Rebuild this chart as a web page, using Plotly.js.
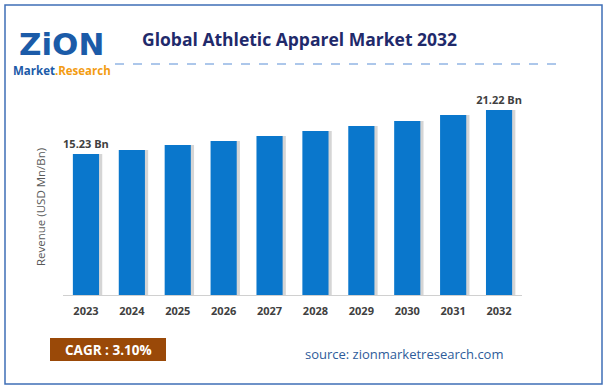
<!DOCTYPE html>
<html><head><meta charset="utf-8">
<script src="https://cdn.plot.ly/plotly-3.0.1.min.js"></script>
<style>html,body{margin:0;padding:0;background:#fff;}#chart{width:607px;height:390px;}</style>
</head><body><div id="chart"></div>
<script>
const years = ['2023','2024','2025','2026','2027','2028','2029','2030','2031','2032'];
const revenue = [15.23, 15.78, 16.46, 17.00, 17.68, 18.36, 19.04, 19.72, 20.54, 21.22];
const unit = ' Bn';
const cagrText = 'CAGR : 3.10%';
const sourceText = 'source: zionmarketresearch.com';
const titleText = 'Global Athletic Apparel Market 2032';
const yTitle = 'Revenue (USD Mn/Bn)';

const W = 607, H = 390, L = 63, R = 85, T = 95, B = 95;
const pw = W - L - R, ph = H - T - B;
const px = x => (x - L) / pw;
const py = y => (H - B - y) / ph;

const yMin = -3.96, yMax = 23.26;
const labels = revenue.map((v, i) => (i === 0 || i === revenue.length - 1) ? v.toFixed(2) + unit : '');
const font = 'Open Sans, Noto Sans, sans-serif';

const shadow = {
  type: 'bar', x: years, y: revenue.map(v => v - yMin), base: yMin, width: 0.57, offset: -0.285 + 0.07,
  marker: {color: 'rgba(150,150,150,0.4)', line: {width: 0}}, hoverinfo: 'skip', showlegend: false
};
const main = {
  type: 'bar', x: years, y: revenue.map(v => v - yMin), base: yMin, width: 0.57, offset: -0.285,
  marker: {color: '#0A77CC', line: {width: 0}},
  text: labels, textposition: 'outside', cliponaxis: false, constraintext: 'none',
  textfont: {family: font, size: 11, color: '#404040', weight: 'bold'},
  showlegend: false
};

const layout = {
  width: W, height: H, margin: {l: L, r: R, t: T, b: B},
  paper_bgcolor: '#fff', plot_bgcolor: '#fff', barmode: 'overlay',
  xaxis: {type: 'category', showgrid: false, zeroline: false, showline: true, linecolor: '#d0d0d0', linewidth: 1,
    ticks: '', tickfont: {family: font, size: 11, color: '#404040', weight: 'bold'}, ticklabelstandoff: 6},
  yaxis: {range: [yMin, yMax], showgrid: false, zeroline: false, showline: false, showticklabels: false, ticks: ''},
  shapes: [
    {type: 'rect', xref: 'paper', yref: 'paper', x0: px(5), x1: px(602), y0: py(5), y1: py(384), line: {color: '#3F6FB6', width: 1.5}},
    {type: 'line', xref: 'paper', yref: 'paper', x0: px(115), x1: px(562), y0: py(64), y1: py(64), line: {color: '#5B8FD6', width: 1, dash: 'dash'}},
    {type: 'rect', xref: 'paper', yref: 'paper', x0: px(50), x1: px(166), y0: py(338), y1: py(361), fillcolor: '#9A4908', line: {width: 0}}
  ],
  annotations: [
    {xref: 'paper', yref: 'paper', x: px(140), y: py(39), xanchor: 'left', yanchor: 'middle', showarrow: false,
      text: '<b>' + titleText + '</b>', font: {family: font, size: 17.5, color: '#1F2A6B'}},
    {xref: 'paper', yref: 'paper', x: px(40), y: py(207), xanchor: 'center', yanchor: 'middle', showarrow: false,
      textangle: -90, text: yTitle, font: {family: font, size: 11.5, color: '#595959'}},
    {xref: 'paper', yref: 'paper', x: px(108), y: py(350), xanchor: 'center', yanchor: 'middle', showarrow: false,
      text: '<b>' + cagrText + '</b>', font: {family: font, size: 13.5, color: '#ffffff'}},
    {xref: 'paper', yref: 'paper', x: px(404), y: py(354), xanchor: 'center', yanchor: 'middle', showarrow: false,
      text: sourceText, font: {family: font, size: 13, color: '#2E5C9A'}},
    {xref: 'paper', yref: 'paper', x: px(61), y: py(44), xanchor: 'center', yanchor: 'middle', showarrow: false,
      text: '<b>ZiON</b>', font: {family: 'DejaVu Sans, sans-serif', size: 31, color: '#1B5BA8'}},
    {xref: 'paper', yref: 'paper', x: px(62), y: py(71), xanchor: 'center', yanchor: 'middle', showarrow: false,
      text: '<b><span style="color:#1B5BA8">Market</span><span style="color:#F39C12">.Research</span></b>',
      font: {family: font, size: 11.5}}
  ]
};
Plotly.newPlot('chart', [shadow, main], layout, {displayModeBar: false, staticPlot: true});
</script></body></html>
